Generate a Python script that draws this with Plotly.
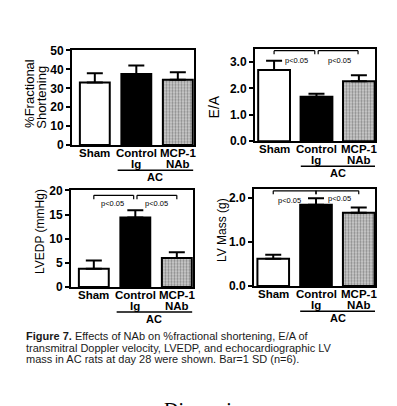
import plotly.graph_objects as go

W, H = 397, 406

# ---------------- data ----------------
groups_line1 = ["Sham", "Control", "MCP-1"]
groups_line2 = ["", "Ig", "NAb"]
fs_vals = [33.0, 37.5, 34.5]
fs_err = [5.0, 4.5, 4.0]
ea_vals = [2.70, 1.68, 2.27]
ea_err = [0.35, 0.12, 0.23]
lvedp_vals = [3.8, 14.4, 6.0]
lvedp_err = [1.7, 1.5, 1.2]
mass_vals = [0.62, 1.85, 1.67]
mass_err = [0.09, 0.15, 0.12]

fs_ticks = [0, 10, 20, 30, 40, 50]
ea_ticks = [0.0, 1.0, 2.0, 3.0]
ea_ticktext = ["0.0", "1.0", "2.0", "3.0"]
lvedp_ticks = [0, 5, 10, 15, 20]
mass_ticks = [0.0, 1.0, 2.0]
mass_ticktext = ["0.0", "1.0", "2.0"]

sig_label = "p<0.05"
group_label = "AC"

caption_lines = [
    "<b>Figure 7.</b> Effects of NAb on %fractional shortening, E/A of",
    "transmitral Doppler velocity, LVEDP, and echocardiographic LV",
    "mass in AC rats at day 28 were shown. Bar=1 SD (n=6).",
]

FONT = "Liberation Sans"

# panel boxes in pixels: (x0, x1, y0, y1)
panels = [
    dict(box=(72, 194, 45, 143), xr=[-0.55, 2.39], yr=[0, 50], vals=fs_vals, err=fs_err,
         tv=fs_ticks, tt=[str(t) for t in fs_ticks], bw=0.72),
    dict(box=(255, 375, 43, 139), xr=[-0.45, 2.38], yr=[0, 3.51], vals=ea_vals, err=ea_err,
         tv=ea_ticks, tt=ea_ticktext, bw=0.75),
    dict(box=(71, 193, 190, 290), xr=[-0.55, 2.39], yr=[0, 20], vals=lvedp_vals, err=lvedp_err,
         tv=lvedp_ticks, tt=[str(t) for t in lvedp_ticks], bw=0.72),
    dict(box=(254, 375, 189, 289), xr=[-0.45, 2.38], yr=[0, 2.2], vals=mass_vals, err=mass_err,
         tv=mass_ticks, tt=mass_ticktext, bw=0.74),
]

fig = go.Figure()
layout = dict(
    width=W, height=H, margin=dict(l=0, r=0, t=0, b=0),
    paper_bgcolor="white", plot_bgcolor="white", showlegend=False,
    font=dict(family=FONT, color="black"),
)

annotations = []
shapes = []

cats = [0, 1, 2]
for i, p in enumerate(panels):
    n = "" if i == 0 else str(i + 1)
    x0, x1, y0, y1 = p["box"]
    fig.add_trace(go.Bar(
        x=cats, y=p["vals"], width=p["bw"],
        xaxis="x" + n, yaxis="y" + n,
        marker=dict(
            color=["white", "black", "#d0d0d0"],
            line=dict(color="black", width=2),
            pattern=dict(shape=["", "", "."], fgcolor="#333333", bgcolor="#d8d8d8",
                         size=3, solidity=0.45),
        ),
        error_y=dict(type="data", symmetric=False, array=p["err"], arrayminus=[0, 0, 0],
                     color="black", thickness=2, width=8),
    ))
    layout["xaxis" + n] = dict(
        domain=[x0 / W, x1 / W], range=p["xr"], anchor="y" + n,
        tickvals=cats, showticklabels=False, showline=True, linecolor="black", linewidth=2,
        mirror=True, ticks="", showgrid=False, zeroline=False, fixedrange=True,
    )
    layout["yaxis" + n] = dict(
        domain=[1 - y1 / H, 1 - y0 / H], range=p["yr"], anchor="x" + n,
        tickvals=p["tv"], ticktext=p["tt"], showline=True, linecolor="black", linewidth=2,
        mirror=True, ticks="outside", ticklen=4, tickwidth=1.5, tickcolor="black",
        showgrid=False, zeroline=False, fixedrange=True,
        tickfont=dict(family=FONT, size=12, color="black", weight="bold"),
    )
    # category labels (two lines) under each bar
    for c, l1, l2 in zip(cats, groups_line1, groups_line2):
        for txt, dy in ((l1, 8), (l2, 19.5)):
            if txt:
                annotations.append(dict(text=txt, xref="x" + n, yref="paper", x=c,
                                        y=1 - (y1 + dy) / H, showarrow=False,
                                        xanchor="center", yanchor="middle",
                                        font=dict(family=FONT, size=11.5, color="black",
                                                  weight="bold")))
    # AC underline + label
    xa, xb = (0.55, 2.37) if i in (0, 2) else (0.63, 2.38)
    shapes.append(dict(type="line", xref="x" + n, yref="paper", x0=xa, x1=xb,
                       y0=1 - (y1 + 26) / H, y1=1 - (y1 + 26) / H,
                       line=dict(color="black", width=1.5)))
    annotations.append(dict(text=group_label, xref="x" + n, yref="paper", x=(xa + xb) / 2,
                            y=1 - (y1 + 33) / H, showarrow=False, yanchor="middle",
                            font=dict(family=FONT, size=11, color="black", weight="bold")))


# y-axis titles
def ytitle(text, xpx, ypx, size):
    annotations.append(dict(text=text, x=xpx / W, y=1 - ypx / H, xref="paper", yref="paper",
                            showarrow=False, textangle=-90, xanchor="center", yanchor="middle",
                            font=dict(family=FONT, size=size, color="black")))


ytitle("%Fractional", 30, 90, 13)
ytitle("Shortening", 42, 94, 13)
ytitle("E/A", 214, 104, 14)
ytitle("LVEDP (mmHg)", 40, 233, 12)
ytitle("LV Mass (g)", 222, 231, 12)

# significance brackets: (axis suffix, x_start, x_end, y_line, y_tick_end, label_x, label_y)
brackets = [
    ("2", 0.0, 0.96, 3.43, 3.29, 0.53, 3.05),
    ("2", 1.04, 1.98, 3.43, 3.29, 1.55, 3.05),
    ("3", 0.0, 0.96, 19.0, 18.2, 0.45, 17.3),
    ("3", 1.04, 2.0, 19.0, 18.2, 1.5, 17.3),
    ("4", 0.0, 1.0, 2.17, 2.09, 0.39, 1.96),
    ("4", 1.0, 2.0, 2.17, 2.09, 1.55, 2.0),
]
for n, xa, xb, yl, yt, lx, lyv in brackets:
    for (ax0, ay0, ax1, ay1) in [(xa, yl, xb, yl), (xa, yl, xa, yt), (xb, yl, xb, yt)]:
        shapes.append(dict(type="line", xref="x" + n, yref="y" + n, x0=ax0, x1=ax1,
                           y0=ay0, y1=ay1, line=dict(color="black", width=1.2)))
    annotations.append(dict(text=sig_label, xref="x" + n, yref="y" + n, x=lx, y=lyv,
                            showarrow=False, font=dict(family=FONT, size=7.5, color="black")))

# caption
for line, ypx in zip(caption_lines, [340.7, 353.0, 364.5]):
    annotations.append(dict(text=line, x=24 / W, y=1 - ypx / H, xref="paper", yref="paper",
                            showarrow=False, xanchor="left", yanchor="middle",
                            font=dict(family=FONT, size=11, color="#1a1a1a")))

annotations.append(dict(text="Discussion", x=162 / W, y=1 - 404 / H, xref="paper", yref="paper",
                        showarrow=False, xanchor="left", yanchor="top",
                        font=dict(family="Liberation Serif", size=20, color="black")))

layout["annotations"] = annotations
layout["shapes"] = shapes
fig.update_layout(**layout)

fig.write_html("out.html", config={"displayModeBar": False},
               post_script="document.body.style.margin='0';document.body.style.overflow='hidden';")
